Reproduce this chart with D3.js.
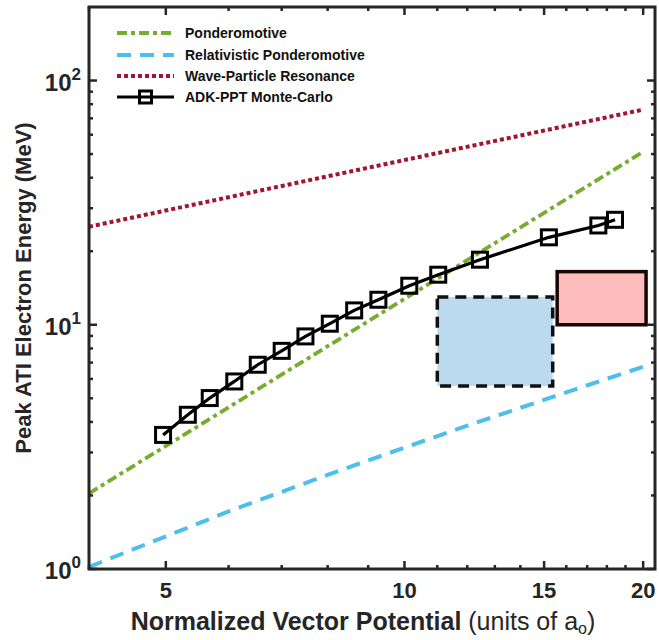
<!DOCTYPE html>
<html>
<head>
<meta charset="utf-8">
<script src="https://cdn.jsdelivr.net/npm/d3@7"></script>
<style>
  html, body { margin: 0; padding: 0; background: #fff; }
  svg { display: block; font-family: "Liberation Sans", Arial, Helvetica, sans-serif; }
</style>
</head>
<body>
<svg id="chart" width="659" height="640"></svg>
<script>
// Peak ATI electron energy vs normalized vector potential

// Ponderomotive scaling
const pondA = [4, 20];
const pondE = [2.04, 51.1];

// Relativistic ponderomotive scaling
const relA = [4, 6, 8, 10, 12, 14, 16, 18, 20];
const relE = [1.02, 1.72, 2.43, 3.14, 3.86, 4.57, 5.29, 6.01, 6.73];

// Wave-particle resonance
const wprA = [4, 20];
const wprE = [25.2, 76];

// ADK-PPT Monte-Carlo results
const mcA = [4.96, 5.33, 5.68, 6.10, 6.53, 7.00, 7.50, 8.05, 8.64, 9.27, 10.14, 11.03, 12.45, 15.21, 17.56, 18.43];
const mcE = [3.54, 4.28, 5.01, 5.86, 6.86, 7.82, 8.96, 10.1, 11.45, 12.66, 14.45, 16.03, 18.47, 22.8, 25.5, 26.9];

// Shaded regions: [aMin, aMax, eMin, eMax]
const blueRegion = [11.0, 15.38, 5.62, 13.0];
const pinkRegion = [15.58, 20.17, 10.0, 16.5];

// Axis ticks
const xTickValues = [5, 10, 15, 20];
const xMinorValues = [4, 6, 7, 8, 9, 11, 12, 13, 14, 16, 17, 18, 19];
const yTickExponents = [0, 1, 2];

const legendLabels = ["Ponderomotive", "Relativistic Ponderomotive", "Wave-Particle Resonance", "ADK-PPT Monte-Carlo"];

const colors = { pond: "#77ac30", rel: "#4dbeee", wpr: "#a2142f", mc: "#000000", axis: "#262626" };

const svg = d3.select("#chart");
const margin = { left: 89, right: 4, top: 7, bottom: 71 };
const W = 659, H = 640;
const x0 = margin.left, x1 = W - margin.right, y0 = margin.top, y1 = H - margin.bottom;

const x = d3.scaleLog().domain([4, 20.7]).range([x0, x1]);
const y = d3.scaleLog().domain([1, 200]).range([y1, y0]);

svg.append("defs").append("clipPath").attr("id", "plotClip")
  .append("rect").attr("x", x0).attr("y", y0).attr("width", x1 - x0).attr("height", y1 - y0);

const plot = svg.append("g").attr("clip-path", "url(#plotClip)");

const line = d3.line().x(d => x(d[0])).y(d => y(d[1]));
const zip = (a, b) => a.map((v, i) => [v, b[i]]);

// Shaded regions
function region(r, fill, dash, stroke) {
  plot.append("rect")
    .attr("x", x(r[0])).attr("y", y(r[3]))
    .attr("width", x(r[1]) - x(r[0])).attr("height", y(r[2]) - y(r[3]))
    .attr("fill", fill).attr("stroke", stroke).attr("stroke-width", 3.5)
    .attr("stroke-dasharray", dash);
}
region(blueRegion, "#bcdaee", "11,7", "#111");
region(pinkRegion, "#ffbcbc", null, "#1a0505");

// Model curves
plot.append("path").datum(zip(relA, relE)).attr("d", line)
  .attr("fill", "none").attr("stroke", colors.rel).attr("stroke-width", 4).attr("stroke-dasharray", "14,9");
plot.append("path").datum(zip(pondA, pondE)).attr("d", line)
  .attr("fill", "none").attr("stroke", colors.pond).attr("stroke-width", 3.8).attr("stroke-dasharray", "10,4,4,4");
plot.append("path").datum(zip(wprA, wprE)).attr("d", line)
  .attr("fill", "none").attr("stroke", colors.wpr).attr("stroke-width", 4).attr("stroke-dasharray", "4,3");

// Monte-Carlo line with square markers
const mc = zip(mcA, mcE);
plot.append("path").datum(mc).attr("d", line)
  .attr("fill", "none").attr("stroke", colors.mc).attr("stroke-width", 3.2);
const sq = 15;
plot.selectAll("rect.mk").data(mc).join("rect").attr("class", "mk")
  .attr("x", d => x(d[0]) - sq / 2).attr("y", d => y(d[1]) - sq / 2)
  .attr("width", sq).attr("height", sq)
  .attr("fill", "none").attr("stroke", "#000").attr("stroke-width", 3);

// Axes (ticks inward, box on all sides)
const axisG = svg.append("g");
function xTicks(yPos, dir) {
  axisG.selectAll(null).data(xTickValues).join("line")
    .attr("x1", d => x(d)).attr("x2", d => x(d))
    .attr("y1", yPos).attr("y2", yPos + dir * 8)
    .attr("stroke", colors.axis).attr("stroke-width", 2.5);
  axisG.selectAll(null).data(xMinorValues).join("line")
    .attr("x1", d => x(d)).attr("x2", d => x(d))
    .attr("y1", yPos).attr("y2", yPos + dir * 4)
    .attr("stroke", colors.axis).attr("stroke-width", 2.5);
}
xTicks(y1, -1);
xTicks(y0, 1);

const yMajor = yTickExponents.map(e => Math.pow(10, e));
const yMinor = [];
[1, 10, 100].forEach(b => { for (let k = 2; k <= 9; k++) if (b * k < 200) yMinor.push(b * k); });
function yTicks(xPos, dir) {
  axisG.selectAll(null).data(yMajor).join("line")
    .attr("y1", d => y(d)).attr("y2", d => y(d))
    .attr("x1", xPos).attr("x2", xPos + dir * 8)
    .attr("stroke", colors.axis).attr("stroke-width", 2.5);
  axisG.selectAll(null).data(yMinor).join("line")
    .attr("y1", d => y(d)).attr("y2", d => y(d))
    .attr("x1", xPos).attr("x2", xPos + dir * 4)
    .attr("stroke", colors.axis).attr("stroke-width", 2.5);
}
yTicks(x0, 1);
yTicks(x1, -1);

axisG.append("rect").attr("x", x0).attr("y", y0).attr("width", x1 - x0).attr("height", y1 - y0)
  .attr("fill", "none").attr("stroke", colors.axis).attr("stroke-width", 3);

// Tick labels
svg.selectAll("text.xt").data(xTickValues).join("text").attr("class", "xt")
  .attr("x", d => x(d)).attr("y", 598)
  .attr("text-anchor", "middle").attr("font-size", 22).attr("font-weight", "bold").attr("fill", colors.axis)
  .text(d => d);

const yt = svg.selectAll("text.yt").data(yTickExponents).join("text").attr("class", "yt")
  .attr("x", x0 - 8).attr("y", d => y(Math.pow(10, d)) + 10)
  .attr("text-anchor", "end").attr("font-size", 24).attr("font-weight", "bold").attr("fill", colors.axis);
yt.append("tspan").text("10");
yt.append("tspan").attr("dy", -11).attr("font-size", 17).text(d => d);

// Axis titles
const xt = svg.append("text").attr("x", 363).attr("y", 630)
  .attr("text-anchor", "middle").attr("font-size", 25).attr("fill", colors.axis);
xt.append("tspan").attr("font-weight", "bold").text("Normalized Vector Potential ");
xt.append("tspan").text("(units of a");
xt.append("tspan").attr("dy", 4).attr("font-size", 16).text("o");
xt.append("tspan").attr("dy", -4).text(")");

svg.append("text").attr("transform", `translate(31, ${(y0 + y1) / 2}) rotate(-90)`)
  .attr("text-anchor", "middle").attr("font-size", 22).attr("font-weight", "bold").attr("fill", colors.axis)
  .text("Peak ATI Electron Energy (MeV)");

// Legend
const legend = svg.append("g");
const legStyles = [
  { color: colors.pond, dash: "10,4,4,4", w: 3.8 },
  { color: colors.rel, dash: "14,9", w: 4 },
  { color: colors.wpr, dash: "4,3", w: 4 },
  { color: colors.mc, dash: null, w: 3.2, marker: true }
];
const legY = [33, 55, 76, 97];
const lx0 = 117, lx1 = 174;
legendLabels.forEach((lab, i) => {
  const s = legStyles[i];
  legend.append("line").attr("x1", lx0).attr("x2", lx1).attr("y1", legY[i]).attr("y2", legY[i])
    .attr("stroke", s.color).attr("stroke-width", s.w).attr("stroke-dasharray", s.dash);
  if (s.marker) {
    legend.append("rect").attr("x", (lx0 + lx1) / 2 - 6).attr("y", legY[i] - 6)
      .attr("width", 12).attr("height", 12).attr("fill", "none").attr("stroke", "#000").attr("stroke-width", 3);
  }
  legend.append("text").attr("x", 185).attr("y", legY[i] + 5)
    .attr("font-size", 14).attr("font-weight", "bold").attr("fill", "#111").text(lab);
});
</script>
</body>
</html>
